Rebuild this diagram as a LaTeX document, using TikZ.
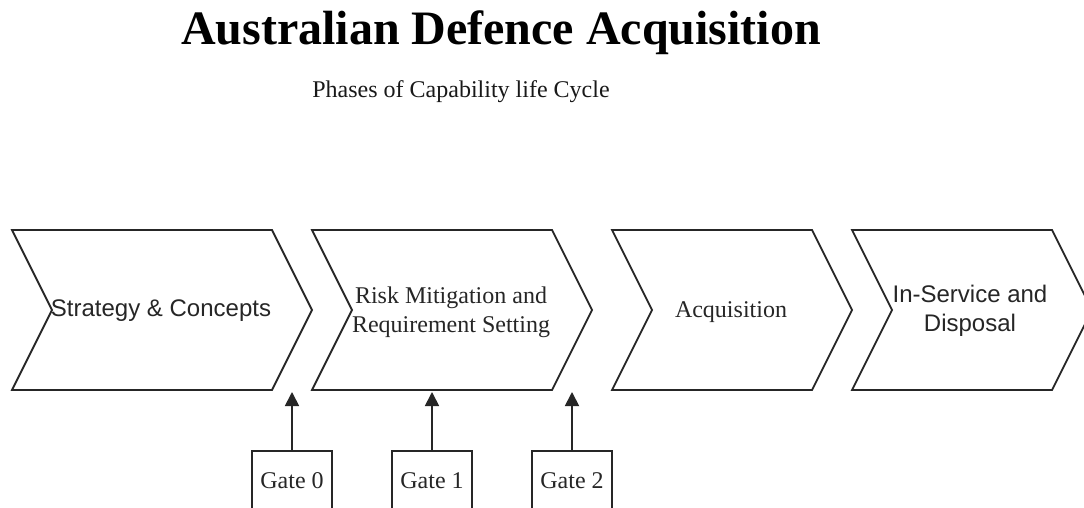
\documentclass[tikz,border=0pt]{standalone}
\usepackage{fontspec}
\setmainfont{Liberation Serif}
\newfontfamily\arialfont{Liberation Sans}
\usetikzlibrary{arrows.meta}

\begin{document}
\begin{tikzpicture}[x=1pt,y=-1pt,
  line/.style={line width=1.8pt, draw=black!85},
  phase/.style={line, fill=white, line join=miter},
  lbl/.style={font=\fontsize{24}{28.8}\selectfont, align=center, inner sep=0pt, text=black!85},
  sanslbl/.style={lbl, font=\arialfont\fontsize{24}{28.8}\selectfont},
  gatebox/.style={line, fill=white, minimum width=80pt, minimum height=60pt, inner sep=0pt,
    anchor=north, font=\fontsize{24}{28.8}\selectfont, text=black!85},
  gatearrow/.style={line, -{Triangle[length=14pt,width=14pt]}}]
\useasboundingbox (0,0) rectangle (1084,508);
\clip (0,0) rectangle (1084,508);
\fill[white] (0,0) rectangle (1084,508);

% heading
\node[anchor=base, font=\bfseries\fontsize{48}{58}\selectfont] (title) at (501,45) {Australian Defence Acquisition};
\node[anchor=base, font=\fontsize{24}{28.8}\selectfont, text=black!90] (subtitle) at (461,98) {Phases of Capability life Cycle};

% phase chevrons (left x / body width): notch on the left, point on the right
\foreach \x/\w in {12/260,312/240,612/200,852/200}{
  \draw[phase] (\x,230) -- ++(\w,0) -- ++(40,80) -- ++(-40,80) -- ++(-\w,0) -- ++(40,-80) -- cycle;
}
\node[sanslbl] (p1) at (161,311) {Strategy \& Concepts};
\node[lbl] (p2) at (451,312) {Risk Mitigation and\\Requirement Setting};
\node[lbl] (p3) at (731,312) {Acquisition};
\node[sanslbl] (p4) at (970,311) {In-Service and\\Disposal};

% decision gates under the phase boundaries
\node[gatebox] (g0) at (292,450) {Gate 0};
\node[gatebox] (g1) at (432,450) {Gate 1};
\node[gatebox] (g2) at (572,450) {Gate 2};
\coordinate (t0) at (292,392);
\coordinate (t1) at (432,392);
\coordinate (t2) at (572,392);
\draw[gatearrow] (g0.north) -- (t0);
\draw[gatearrow] (g1.north) -- (t1);
\draw[gatearrow] (g2.north) -- (t2);
\end{tikzpicture}
\end{document}
